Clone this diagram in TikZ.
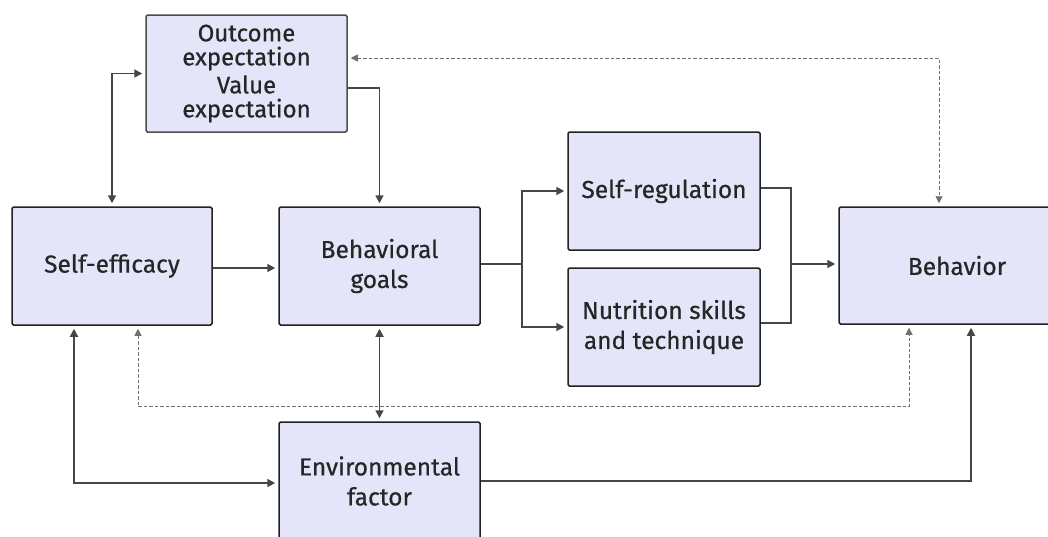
\documentclass[tikz,border=0pt]{standalone}
\usepackage{fontspec}
\setmainfont[FakeBold=0.6]{Fira Sans}
\usetikzlibrary{arrows.meta,calc}
\definecolor{boxfill}{HTML}{E4E5F8}
\definecolor{boxline}{HTML}{222222}
\definecolor{conn}{HTML}{464646}
\definecolor{dconn}{HTML}{707070}
\begin{document}
\begin{tikzpicture}[x=1pt,y=-1pt,
  box/.style={draw=boxline, fill=boxfill, line width=1.5pt, rounded corners=1.5pt,
    minimum height=118pt, align=center, inner sep=0pt,
    font=\fontsize{24.5}{30}\selectfont, text=black!85},
  conn/.style={draw=conn, line width=1.7pt, -{Triangle[length=8pt,width=8pt]}, shorten >=3pt},
  bconn/.style={conn, {Triangle[length=8pt,width=8pt]}-{Triangle[length=8pt,width=8pt]}, shorten <=3pt},
  line/.style={draw=conn, line width=1.7pt},
  dconn/.style={draw=dconn, line width=0.9pt, dash pattern=on 3.5pt off 2pt,
    {Triangle[length=7pt,width=7pt]}-{Triangle[length=7pt,width=7pt]}, shorten >=3pt, shorten <=3pt}
]
\clip (0,0) rectangle (1048,536);
\fill[white] (0,0) rectangle (1048,536);

\node[box, minimum width=200pt] (SE) at (112,266) {Self-efficacy};
\node[box, minimum width=201pt] (BG) at (379.5,266) {Behavioral\\goals};
\node[box, minimum width=201pt, minimum height=117pt, draw=boxline!80,
  font=\fontsize{24}{30}\selectfont] (OE) at (246.5,73.5)
  {Outcome\\[-6pt]expectation\\[-2pt]Value\\[-6pt]expectation};
\node[box, minimum width=192pt] (SR) at (664,191) {Self-regulation};
\node[box, minimum width=192pt] (NS) at (664,327) {Nutrition skills\\and technique};
\node[box, minimum width=236pt, minimum height=117pt] (BH) at (957,265.5) {Behavior};
\node[box, minimum width=201pt] (EF) at (379.5,481) {Environmental\\factor};

\coordinate (split) at (522,264);
\coordinate (join) at (791,264);

% Self-efficacy <-> Outcome
\draw[bconn] (SE.north) |- (OE.west);
% Outcome -> Behavioral goals
\draw[conn] ([yshift=-14.5pt]OE.east) -| (BG.north);
% Behavior <-> Outcome (dashed)
\draw[dconn] ([yshift=15.5pt]OE.east) -| ([xshift=-18pt]BH.north);
% Self-efficacy -> Behavioral goals
\draw[conn] ([yshift=-2pt]SE.east) -- ([yshift=-2pt]BG.west);
% Behavioral goals -> split
\draw[line] (BG.east |- split) -- (split);
\draw[conn] (split) |- (SR.west);
\draw[conn] (split) |- (NS.west);
% join -> Behavior
\draw[line] ([yshift=3pt]SR.east) -| (join) |- ([yshift=4pt]NS.east);
\draw[conn] (join) -- (BH.west |- join);
% Behavioral goals <-> Environmental
\draw[bconn] (BG.south) -- (EF.north);
% Self-efficacy <-> Behavior (dashed)
\draw[dconn] ([xshift=26pt]SE.south) -- ++(0,81) -| ([xshift=-48pt]BH.south);
% Self-efficacy <-> Environmental
\draw[bconn] ([xshift=-38pt]SE.south) |- ([yshift=-2pt]EF.west);
% Environmental -> Behavior
\draw[conn] (EF.east) -| ([xshift=14pt]BH.south);
\end{tikzpicture}
\end{document}
